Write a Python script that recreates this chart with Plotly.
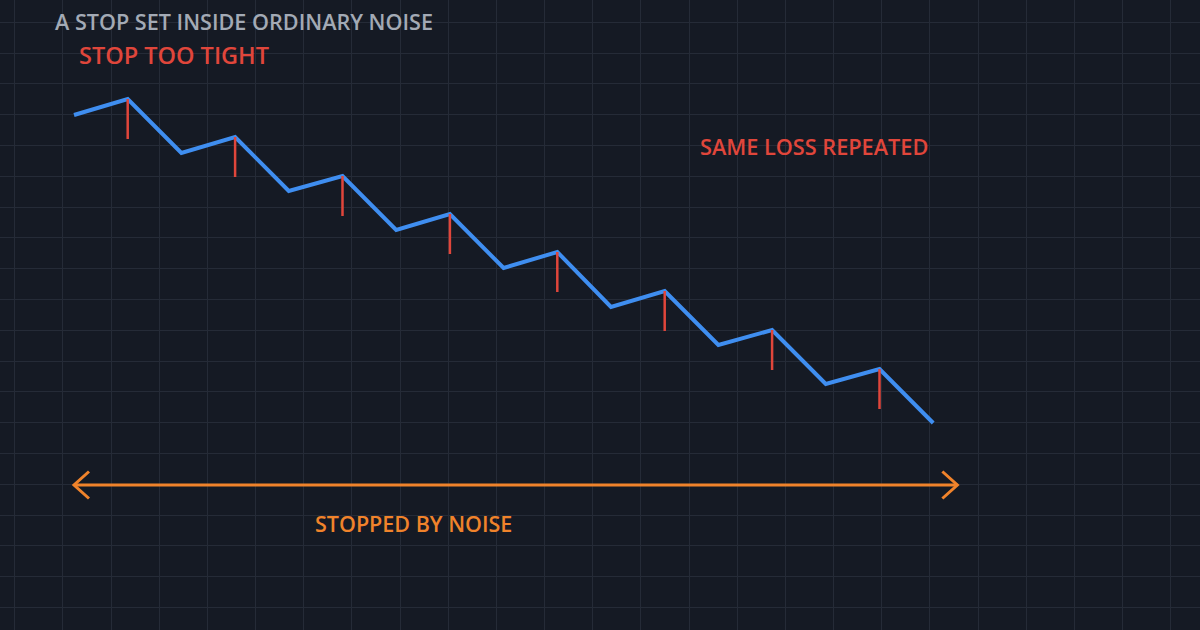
import plotly.graph_objects as go

# ---- data ----
step_index = list(range(17))
price = [38.5, 40.1, 34.7, 36.3, 30.9, 32.4, 27.0, 28.6, 23.2, 24.8,
         19.3, 20.9, 15.5, 17.0, 11.6, 13.1, 7.7]
stop_steps = [1, 3, 5, 7, 9, 11, 13, 15]
stop_distance = 4.0
noise_span = [0.0, 16.45]
noise_level = 1.5

title_text = "A STOP SET INSIDE ORDINARY NOISE"
label_tight = "STOP TOO TIGHT"
label_repeat = "SAME LOSS REPEATED"
label_noise = "STOPPED BY NOISE"

# ---- styles ----
BG = "#151a24"
GRID = "#252b37"
BLUE = "#3f8ef0"
RED = "#e0463b"
ORANGE = "#f0832b"
GRAY = "#a3aab5"
FONT = "Open Sans"

px_per_x = 53.7
px_per_y = 10.0
x0_px = 74.0
y0_px = 500.0
head_dx = 15 / px_per_x
head_dy = 13.5 / px_per_y

fig = go.Figure()

fig.add_trace(go.Scatter(
    x=step_index, y=price, mode="lines",
    line=dict(color=BLUE, width=4, shape="linear"),
    hoverinfo="skip", showlegend=False,
))

sx, sy = [], []
for s in stop_steps:
    sx += [step_index[s], step_index[s], None]
    sy += [price[s], price[s] - stop_distance, None]
fig.add_trace(go.Scatter(
    x=sx, y=sy, mode="lines",
    line=dict(color=RED, width=2.5),
    hoverinfo="skip", showlegend=False,
))

# double-headed arrow (shaft + open chevrons)
a, b = noise_span
ax_ = [a, b, None,
       a + head_dx, a, a + head_dx, None,
       b - head_dx, b, b - head_dx]
ay_ = [noise_level, noise_level, None,
       noise_level + head_dy, noise_level, noise_level - head_dy, None,
       noise_level + head_dy, noise_level, noise_level - head_dy]
fig.add_trace(go.Scatter(
    x=ax_, y=ay_, mode="lines",
    line=dict(color=ORANGE, width=3),
    hoverinfo="skip", showlegend=False,
))

def label(text, x, y, color, size):
    fig.add_annotation(
        x=x, y=y, xref="paper", yref="paper", xanchor="left", yanchor="middle",
        text=text, showarrow=False,
        font=dict(family=FONT, size=size, color=color, weight=600),
    )

label(title_text, 53 / 1200, 1 - 22 / 630, GRAY, 21.6)
label(label_tight, 77 / 1200, 1 - 55 / 630, RED, 23.5)
label(label_repeat, 698 / 1200, 1 - 146 / 630, RED, 21.7)
label(label_noise, 313 / 1200, 1 - 523 / 630, ORANGE, 21.5)

fig.update_layout(
    width=1200, height=630,
    margin=dict(l=0, r=0, t=0, b=0),
    paper_bgcolor=BG, plot_bgcolor=BG,
    xaxis=dict(
        range=[(0 - x0_px) / px_per_x, (1200 - x0_px) / px_per_x],
        showticklabels=False, zeroline=False, showline=False,
        showgrid=True, gridcolor=GRID, gridwidth=1,
        tick0=(14.7 - x0_px) / px_per_x, dtick=48.17 / px_per_x,
        fixedrange=True,
    ),
    yaxis=dict(
        range=[(y0_px - 630) / px_per_y, (y0_px - 0) / px_per_y],
        showticklabels=False, zeroline=False, showline=False,
        showgrid=True, gridcolor=GRID, gridwidth=1,
        tick0=(y0_px - 22.3) / px_per_y, dtick=30.8 / px_per_y,
        fixedrange=True,
    ),
)

fig.write_html(
    "out.html",
    config={"displayModeBar": False},
    post_script="document.body.style.margin='0';document.body.style.background='%s';" % BG,
)
